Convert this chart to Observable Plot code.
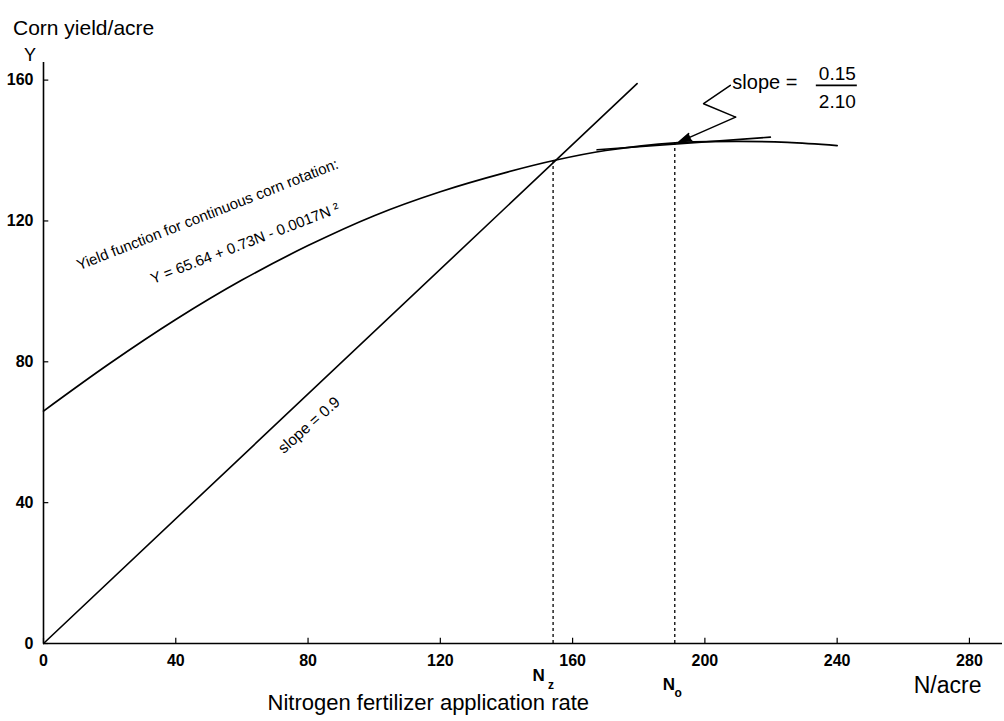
<!DOCTYPE html>
<html>
<head>
<meta charset="utf-8">
<script src="https://cdn.jsdelivr.net/npm/d3@7"></script>
<script src="https://cdn.jsdelivr.net/npm/@observablehq/plot@0.6"></script>
<style>
  html, body { margin: 0; padding: 0; background: #fff; }
  #chart svg { display: block; }
</style>
</head>
<body>
<div id="chart"></div>
<script>
// ---- data ----
const xTicks = [0, 40, 80, 120, 160, 200, 240, 280];
const yTicks = [0, 40, 80, 120, 160];

// yield curve (N/acre -> Corn yield/acre)
const curveN = [0, 20, 40, 60, 80, 100, 120, 140, 155, 170, 191, 210, 225, 240];
const curveY = [66, 79.5, 92, 103.2, 113, 121.5, 128.3, 133.8, 137.3, 140, 142.2, 142.6, 142.3, 141.4];

// straight line through origin (slope = 0.9)
const rayN = [0, 179.5];
const rayY = [0, 159];

// tangent at N_o
const tangentN = [167.4, 219.8];
const tangentY = [140.2, 143.8];

// dropped dashed lines (N_z, N_o)
const dropN = [154.1, 190.9];
const dropY = [137.5, 142.3];
const dropSub = ["z", "o"];

// zig-zag callout pointing at tangent point
const calloutN = [207.7, 199.6, 209.3, 192.1];
const calloutY = [158.5, 153.3, 149.5, 142.4];

// fraction bar of the callout
const fracBarN = [233.7, 246.1];
const fracBarY = [158.5];
const slopeNum = "0.15";
const slopeDen = "2.10";

// in-plot labels
const labelText = [
  "Yield function for continuous corn rotation:",
  "Y = 65.64 + 0.73N - 0.0017N \u00B2",
  "slope = 0.9"
];
const labelN = [49.6, 60.9, 80.3];
const labelY = [121.8, 113.6, 62.0];
const labelRotate = [-21.5, -21, -41.5];
const labelSize = [15, 15, 15.5];

// ---- build tables ----
const curve = curveN.map((n, i) => ({N: n, Y: curveY[i]}));
const ray = rayN.map((n, i) => ({N: n, Y: rayY[i]}));
const tangent = tangentN.map((n, i) => ({N: n, Y: tangentY[i]}));
const drops = dropN.map((n, i) => ({N: n, Y: dropY[i], sub: dropSub[i]}));
const callout = calloutN.map((n, i) => ({N: n, Y: calloutY[i]}));
const labels = labelText.map((t, i) => ({t, N: labelN[i], Y: labelY[i], r: labelRotate[i], s: labelSize[i]}));
const head = [{x1: calloutN[2], y1: calloutY[2], x2: calloutN[3], y2: calloutY[3]}];
const calloutStart = [callout[0]];
const fracBar = [{x1: fracBarN[0], x2: fracBarN[1], y: fracBarY[0]}];

const font = "'Liberation Sans', Arial, Helvetica, sans-serif";

const chart = Plot.plot({
  width: 1004,
  height: 721,
  marginLeft: 43,
  marginRight: 2,
  marginTop: 62,
  marginBottom: 78,
  x: {domain: [0, 290]},
  y: {domain: [0, 165]},
  style: {fontFamily: font, background: "#fff", color: "#000", overflow: "visible"},
  marks: [
    // axes lines
    Plot.ruleY([0], {stroke: "#000", strokeWidth: 1.6}),
    Plot.ruleX([0], {stroke: "#000", strokeWidth: 1.6}),
    // inward ticks
    Plot.ruleX(xTicks, {y1: 0, y2: 1.5, stroke: "#000", strokeWidth: 1.2}),
    Plot.ruleY(yTicks, {x1: 0, x2: 1.6, stroke: "#000", strokeWidth: 1.2}),
    Plot.axisX({ticks: xTicks, tickSize: 0, tickPadding: 11, fontSize: 16, fontWeight: "bold", label: null}),
    Plot.axisY({ticks: yTicks, tickSize: 0, tickPadding: 10, fontSize: 16, fontWeight: "bold", label: null}),

    // dashed drop lines
    Plot.ruleX(drops, {x: "N", y1: 0, y2: "Y", stroke: "#000", strokeWidth: 1.3, strokeDasharray: "3,3"}),

    // curve, ray, tangent
    Plot.line(curve, {x: "N", y: "Y", curve: "catmull-rom", stroke: "#000", strokeWidth: 1.7}),
    Plot.line(ray, {x: "N", y: "Y", stroke: "#000", strokeWidth: 1.6}),
    Plot.line(tangent, {x: "N", y: "Y", stroke: "#000", strokeWidth: 1.6}),

    // callout zig-zag with filled arrow head
    Plot.line(callout.slice(0, 3), {x: "N", y: "Y", stroke: "#000", strokeWidth: 1.5}),
    Plot.arrow(head, {x1: "x1", y1: "y1", x2: "x2", y2: "y2", stroke: "#000", fill: "#000", strokeWidth: 1.5, headLength: 13, headAngle: 34}),

    // slope = 0.15 / 2.10
    Plot.text(calloutStart, {x: "N", y: "Y", text: () => "slope =", textAnchor: "start", dx: 2, dy: -3, fontSize: 20}),
    Plot.text(calloutStart, {x: "N", y: "Y", text: () => slopeNum, textAnchor: "middle", dx: 107, dy: -11, fontSize: 19}),
    Plot.text(calloutStart, {x: "N", y: "Y", text: () => slopeDen, textAnchor: "middle", dx: 107, dy: 17, fontSize: 19}),
    Plot.ruleY(fracBar, {x1: "x1", x2: "x2", y: "y", stroke: "#000", strokeWidth: 1.6}),

    // rotated labels
    Plot.text(labels, {x: "N", y: "Y", text: "t", rotate: (d) => d.r, fontSize: (d) => d.s, textAnchor: "middle"}),

    // N_z, N_o below the axis
    Plot.text([drops[0]], {x: "N", frameAnchor: "bottom", text: () => "N", dx: -14.5, dy: 37, fontSize: 17, fontWeight: "bold"}),
    Plot.text([drops[0]], {x: "N", frameAnchor: "bottom", text: "sub", dx: -2, dy: 45, fontSize: 12, fontWeight: "bold"}),
    Plot.text([drops[1]], {x: "N", frameAnchor: "bottom", text: () => "N", dx: -6, dy: 46.5, fontSize: 17, fontWeight: "bold"}),
    Plot.text([drops[1]], {x: "N", frameAnchor: "bottom", text: "sub", dx: 3.5, dy: 53.5, fontSize: 12, fontWeight: "bold"}),

    // axis titles
    Plot.text(["Corn yield/acre"], {frameAnchor: "top-left", text: (d) => d, textAnchor: "start", dx: -30.5, dy: -42, fontSize: 21}),
    Plot.text(["Y"], {frameAnchor: "top-left", text: (d) => d, textAnchor: "middle", dx: -13.5, dy: -14.5, fontSize: 18}),
    Plot.text(["N/acre"], {frameAnchor: "bottom-right", text: (d) => d, textAnchor: "end", dx: -21, dy: 49.5, fontSize: 23}),
    Plot.text(["Nitrogen fertilizer application rate"], {frameAnchor: "bottom-left", text: (d) => d, textAnchor: "start", dx: 224, dy: 66, fontSize: 22})
  ]
});

document.getElementById("chart").appendChild(chart);
</script>
</body>
</html>
